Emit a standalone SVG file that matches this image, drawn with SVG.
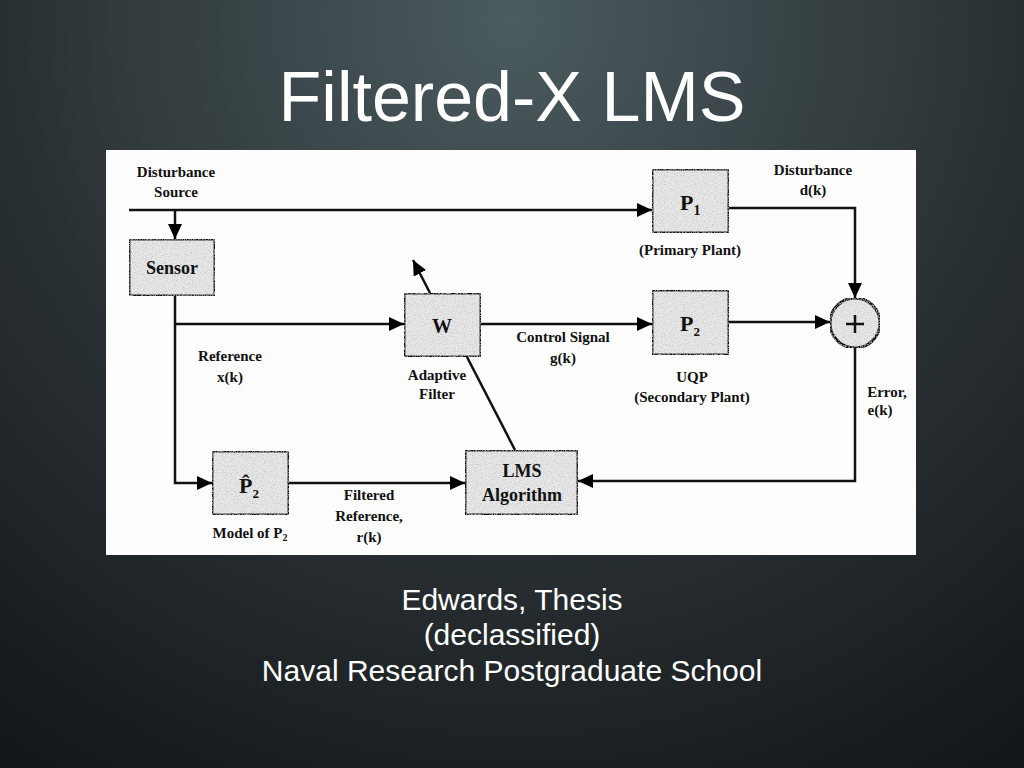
<svg xmlns="http://www.w3.org/2000/svg" width="1024" height="768" viewBox="0 0 1024 768">
<defs>
<radialGradient id="bg" cx="512" cy="20" r="900" gradientUnits="userSpaceOnUse">
<stop offset="0" stop-color="#4b5b5e"/>
<stop offset="0.55" stop-color="#2a3134"/>
<stop offset="1" stop-color="#131618"/>
</radialGradient>
<marker id="ah" markerWidth="15" markerHeight="14" refX="15" refY="7" orient="auto" markerUnits="userSpaceOnUse">
<path d="M0,0 L15,7 L0,14 z" fill="#000"/>
</marker>
<filter id="speck" x="0" y="0" width="1" height="1">
<feTurbulence type="fractalNoise" baseFrequency="0.9" numOctaves="2" seed="3" result="n"/>
<feColorMatrix in="n" type="matrix" values="0 0 0 0 0.55  0 0 0 0 0.55  0 0 0 0 0.55  0 0 0 -2.2 1.25" result="dots"/>
<feComposite in="dots" in2="SourceGraphic" operator="in" result="d2"/>
<feMerge><feMergeNode in="SourceGraphic"/><feMergeNode in="d2"/></feMerge>
</filter>
</defs>
<style>
.title{font-family:"Liberation Sans",Arial,sans-serif;fill:#fff;font-size:70px;text-anchor:middle;}
.t{font-family:"Liberation Serif","Times New Roman",serif;font-weight:bold;font-size:15px;fill:#111;text-anchor:middle;}
.b18{font-size:18px;}
.big{font-family:"Liberation Serif","Times New Roman",serif;font-weight:bold;font-size:22px;fill:#111;}
.box{fill:#e8e8e8;stroke:#111;stroke-width:3;}
.ln{fill:none;stroke:#111;stroke-width:2.5;}
.cap{font-family:"Liberation Sans",Arial,sans-serif;font-size:30px;fill:#fff;text-anchor:middle;}
</style>
<rect width="1024" height="768" fill="url(#bg)"/>
<text class="title" x="512" y="121">Filtered-X LMS</text>
<rect x="106" y="150" width="810" height="405" fill="#fdfdfd"/>

<g id="connectors">
<path class="ln" d="M129,210 H652" marker-end="url(#ah)"/>
<path class="ln" d="M175,210 V239" marker-end="url(#ah)"/>
<path class="ln" d="M729,208 H855 V298" marker-end="url(#ah)"/>
<path class="ln" d="M175,296 V483 H212" marker-end="url(#ah)"/>
<path class="ln" d="M175,324 H404" marker-end="url(#ah)"/>
<path class="ln" d="M481,324 H652" marker-end="url(#ah)"/>
<path class="ln" d="M729,322 H830" marker-end="url(#ah)"/>
<path class="ln" d="M855,348 V481 H578" marker-end="url(#ah)"/>
<path class="ln" d="M289,483 H465" marker-end="url(#ah)"/>
<path class="ln" d="M515,450 L467,357"/>
<path class="ln" d="M430,293 L413,260" marker-end="url(#ah)"/>
</g>

<g id="disturbance-source">
<text class="t" x="176" y="177">Disturbance</text>
<text class="t" x="176" y="197">Source</text>
</g>
<g id="sensor">
<rect class="box" x="129" y="239" width="86" height="57" filter="url(#speck)"/>
<text class="t b18" x="172" y="274">Sensor</text>
</g>
<g id="p1">
<rect class="box" x="652" y="169" width="77" height="64" filter="url(#speck)"/>
<text class="big" x="680" y="210">P<tspan font-size="14" dy="5">1</tspan></text>
<text class="t" x="690" y="255">(Primary Plant)</text>
</g>
<g id="disturbance-dk">
<text class="t" x="813" y="175">Disturbance</text>
<text class="t" x="813" y="195">d(k)</text>
</g>
<g id="w">
<rect class="box" x="404" y="293" width="77" height="64" filter="url(#speck)"/>
<text class="t" x="442" y="333" style="font-size:20px">W</text>
<text class="t" x="437" y="380">Adaptive</text>
<text class="t" x="437" y="399">Filter</text>
</g>
<g id="control-signal">
<text class="t" x="563" y="342">Control Signal</text>
<text class="t" x="563" y="363">g(k)</text>
</g>
<g id="p2">
<rect class="box" x="652" y="290" width="77" height="65" filter="url(#speck)"/>
<text class="big" x="680" y="331">P<tspan font-size="13" dy="5">2</tspan></text>
<text class="t" x="692" y="382">UQP</text>
<text class="t" x="692" y="402">(Secondary Plant)</text>
</g>
<g id="sum">
<circle cx="855" cy="323" r="25" fill="#e8e8e8" stroke="#111" stroke-width="3" filter="url(#speck)"/>
<path d="M846,324 H864 M855,315 V333" stroke="#111" stroke-width="2.5"/>
</g>
<g id="error">
<text class="t" x="887" y="397">Error,</text>
<text class="t" x="880" y="415">e(k)</text>
</g>
<g id="reference">
<text class="t" x="230" y="361">Reference</text>
<text class="t" x="230" y="382">x(k)</text>
</g>
<g id="p2hat">
<rect class="box" x="212" y="451" width="77" height="64" filter="url(#speck)"/>
<text class="big" x="239" y="493">P&#x302;<tspan font-size="13" dy="5">2</tspan></text>
<text class="t" x="250" y="538">Model of P<tspan font-size="10" dy="3">2</tspan></text>
</g>
<g id="filtered-ref">
<text class="t" x="369" y="500">Filtered</text>
<text class="t" x="369" y="521">Reference,</text>
<text class="t" x="369" y="542">r(k)</text>
</g>
<g id="lms">
<rect class="box" x="465" y="450" width="113" height="65" filter="url(#speck)"/>
<text class="t b18" x="522" y="477">LMS</text>
<text class="t b18" x="522" y="501">Algorithm</text>
</g>

<text class="cap" x="512" y="610">Edwards, Thesis</text>
<text class="cap" x="512" y="645">(declassified)</text>
<text class="cap" x="512" y="681">Naval Research Postgraduate School</text>
</svg>
